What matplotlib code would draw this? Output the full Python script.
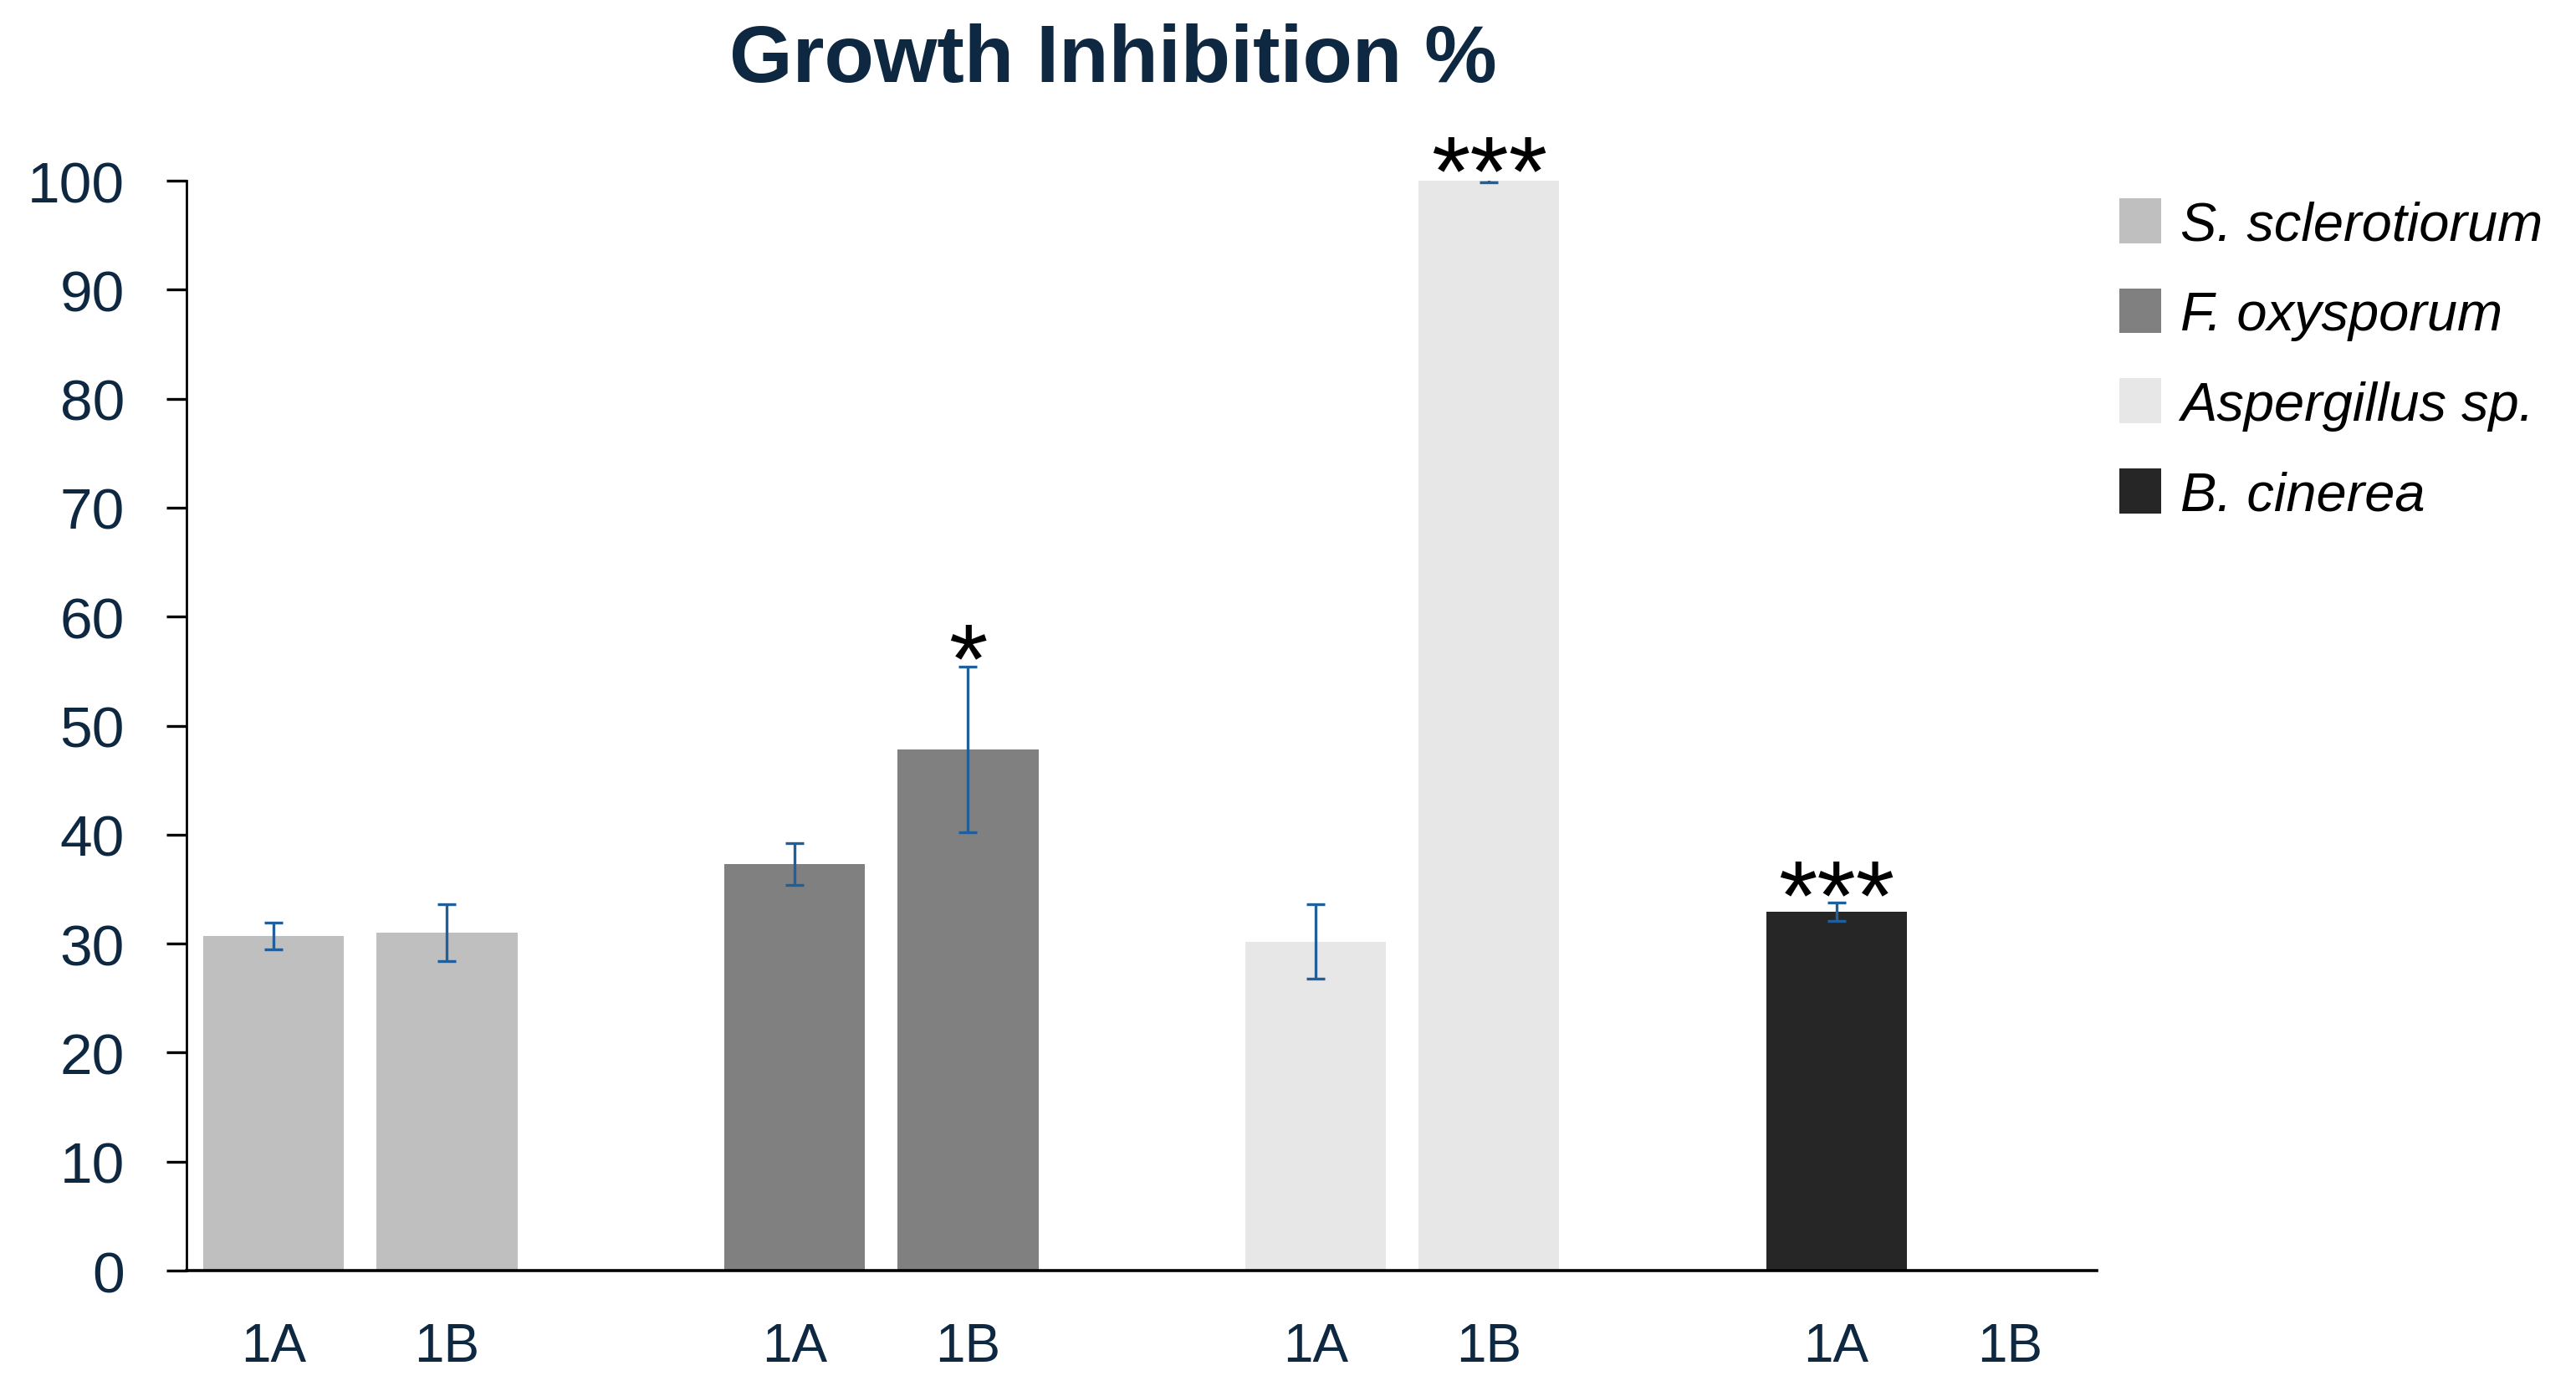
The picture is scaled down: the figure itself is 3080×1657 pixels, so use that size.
import numpy as np
import matplotlib.pyplot as plt
from matplotlib.transforms import offset_copy

# --- data ---
species = ['S. sclerotiorum', 'F. oxysporum', 'Aspergillus sp.', 'B. cinerea']
compounds = ['1A', '1B']
tick_labels = ['1A', '1B', '', '1A', '1B', '', '1A', '1B', '', '1A', '1B']

s_scl_mean = [30.7, 31.0]
s_scl_err = [1.2, 2.6]
f_oxy_mean = [37.3, 47.8]
f_oxy_err = [1.9, 7.6]
asp_mean = [30.2, 100.0]
asp_err = [3.4, 0.15]
b_cin_mean = [32.9, np.nan]
b_cin_err = [0.85, np.nan]

means = [s_scl_mean, f_oxy_mean, asp_mean, b_cin_mean]
errors = [s_scl_err, f_oxy_err, asp_err, b_cin_err]
signif = [['', ''], ['', '*'], ['', '***'], ['***', '']]

colors = ['#BFBFBF', '#808080', '#E7E7E7', '#262626']
err_color = '#215F9A'
text_color = '#0E2841'

plt.rcParams['font.family'] = ['Liberation Sans', 'DejaVu Sans']

fig = plt.figure(figsize=(15.4, 8.29), dpi=200)
ax = fig.add_axes([0.0724, 0.0832, 0.7416, 0.7859])

group_start = [0, 3, 6, 9]
for i, name in enumerate(species):
    x = np.array(group_start[i]) + np.arange(len(compounds))
    ax.bar(x, means[i], width=0.81, color=colors[i], label=name, zorder=2)
    ax.errorbar(x, means[i], yerr=errors[i], fmt='none', ecolor=err_color,
                elinewidth=1.2, capsize=3.8, capthick=1.2, zorder=3)
    # significance stars just above the error bar
    for xi, m, e, s in zip(x, means[i], errors[i], signif[i]):
        if s:
            tr = offset_copy(ax.transData, fig=fig, x=0, y=-11, units='points')
            ax.text(xi, m + e, s, transform=tr, ha='center', va='baseline',
                    fontsize=43, color='black', clip_on=False, zorder=4)

ax.set_xlim(-0.5, len(tick_labels) - 0.5)
ax.set_ylim(0, 100)
ax.set_xticks(np.arange(len(tick_labels)))
ax.set_xticklabels(tick_labels)
ax.set_yticks(np.arange(0, 101, 10))

for side in ['top', 'right']:
    ax.spines[side].set_visible(False)
ax.spines['left'].set_linewidth(1.0)
ax.spines['bottom'].set_linewidth(1.3)
ax.spines['bottom'].set_zorder(5)

ax.tick_params(axis='y', direction='out', length=8.6, width=1.2, pad=18,
               labelsize=25, labelcolor=text_color)
ax.tick_params(axis='x', length=0, pad=22, labelsize=23, labelcolor=text_color)

fig.text(0.432, 0.956, 'Growth Inhibition %', ha='center', va='center',
         fontsize=35, fontweight='bold', color=text_color)

leg = ax.legend(loc='upper left', bbox_to_anchor=(2534 / 3080, 1 - 238 / 1658),
                bbox_transform=fig.transFigure, frameon=False, fontsize=23.4,
                handlelength=0.77, handleheight=0.89, handletextpad=0.35,
                labelspacing=0.7, borderpad=0, borderaxespad=0)
for t in leg.get_texts():
    t.set_fontstyle('italic')
    t.set_color('black')

fig.savefig('out.png', dpi=200, facecolor='white')
